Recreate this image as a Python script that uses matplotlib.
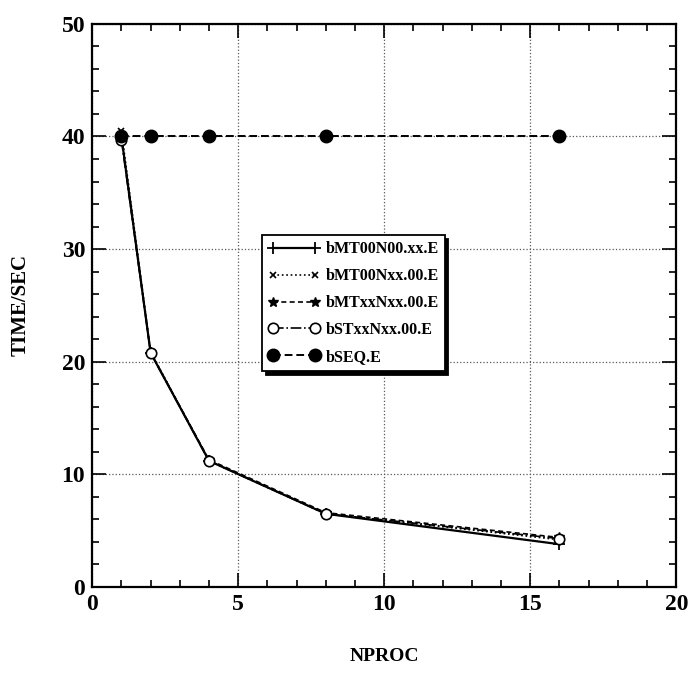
import matplotlib
matplotlib.use('Agg')
import matplotlib.pyplot as plt
from matplotlib.ticker import MultipleLocator

plt.rcParams['font.family'] = ['Liberation Serif', 'DejaVu Serif']
plt.rcParams['font.weight'] = 'bold'

nproc = [1, 2, 4, 8, 16]
t_mt00n00 = [40.0, 20.8, 11.2, 6.5, 3.8]
t_mt00nxx = [40.5, 20.9, 11.2, 6.5, 4.2]
t_mtxxnxx = [40.0, 20.8, 11.3, 6.6, 4.4]
t_stxxnxx = [39.7, 20.8, 11.2, 6.5, 4.3]
t_seq = [40.0, 40.0, 40.0, 40.0, 40.0]

labels = ['bMT00N00.xx.E', 'bMT00Nxx.00.E', 'bMTxxNxx.00.E',
          'bSTxxNxx.00.E', 'bSEQ.E']

fig = plt.figure(figsize=(6.88, 6.81), dpi=100)
ax = fig.add_axes([0.134, 0.138, 0.849, 0.827])

ax.plot(nproc, t_mt00n00, '-', color='k', lw=1.6, marker='+', ms=9, mew=1.3,
        label=labels[0])
ax.plot(nproc, t_mt00nxx, ':', color='k', lw=1.2, marker='x', ms=5, mew=1.2,
        label=labels[1])
ax.plot(nproc, t_mtxxnxx, '--', color='k', lw=1.2, marker='*', ms=7,
        dashes=(3, 2), label=labels[2])
ax.plot(nproc, t_stxxnxx, '-.', color='k', lw=1.2, marker='o', ms=7.5, mfc='white',
        mew=1.2, label=labels[3])
ax.plot(nproc, t_seq, '--', color='k', lw=1.4, marker='o', ms=9,
        dashes=(4, 2), label=labels[4])

ax.set_xlim(0, 20)
ax.set_ylim(0, 50)
ax.xaxis.set_major_locator(MultipleLocator(5))
ax.xaxis.set_minor_locator(MultipleLocator(1))
ax.yaxis.set_major_locator(MultipleLocator(10))
ax.yaxis.set_minor_locator(MultipleLocator(2))
ax.tick_params(which='both', direction='in', top=True, right=True,
               labelsize=17, width=1.2)
ax.tick_params(which='major', length=10, pad=5)
ax.tick_params(which='minor', length=5)
ax.grid(True, which='major', linestyle=':', color='0.35', lw=0.9)
for s in ax.spines.values():
    s.set_linewidth(1.6)

ax.set_xlabel('NPROC', fontsize=14, fontweight='bold', labelpad=24)
ax.set_ylabel('TIME/SEC', fontsize=15, fontweight='bold', labelpad=22)

leg = ax.legend(loc='upper left', bbox_to_anchor=(0.291, 0.625),
                fancybox=False, framealpha=1, edgecolor='k', numpoints=2,
                shadow={'ox': 2.5, 'oy': -3, 'shade': 1.0, 'alpha': 1},
                prop={'size': 11.5, 'weight': 'bold'},
                handlelength=3.2, handletextpad=0.35, labelspacing=0.68,
                borderpad=0.4, borderaxespad=0)
leg.get_frame().set_linewidth(1.3)

fig.savefig('out.png', dpi=100)
